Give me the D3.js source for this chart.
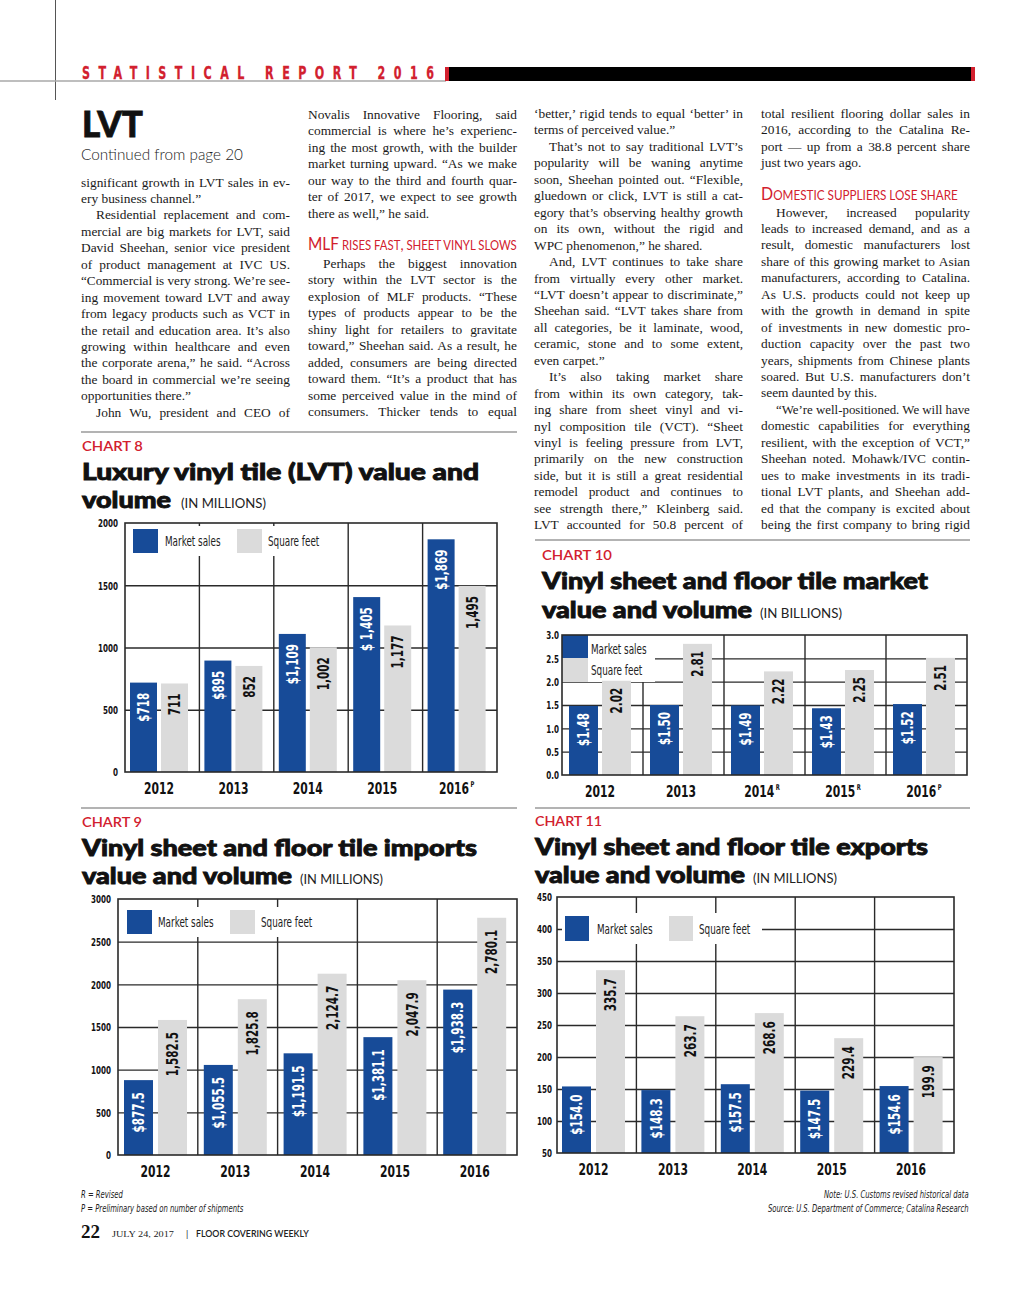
<!DOCTYPE html>
<html><head><meta charset="utf-8">
<script src="https://cdn.jsdelivr.net/npm/d3@7"></script>
<style>
html,body{margin:0;padding:0;background:#fff;}
svg{display:block;}
</style></head><body>
<svg id="page" width="1024" height="1293" xmlns="http://www.w3.org/2000/svg"></svg>
<script>
// ---------------- DATA ----------------
const years = ["2012", "2013", "2014", "2015", "2016"];

// Chart 8: LVT value and volume (millions)
const c8Sales = [718, 895, 1109, 1405, 1869];
const c8SalesLabels = ["$718", "$895", "$1,109", "$ 1,405", "$1,869"];
const c8Sqft = [711, 852, 1002, 1177, 1495];
const c8SqftLabels = ["711", "852", "1,002", "1,177", "1,495"];
const c8Sup = ["", "", "", "", "P"];
const c8Ticks = [0, 500, 1000, 1500, 2000];

// Chart 10: vinyl sheet & floor tile market (billions)
const c10Sales = [1.48, 1.50, 1.49, 1.43, 1.52];
const c10SalesLabels = ["$1.48", "$1.50", "$1.49", "$1.43", "$1.52"];
const c10Sqft = [2.02, 2.81, 2.22, 2.25, 2.51];
const c10SqftLabels = ["2.02", "2.81", "2.22", "2.25", "2.51"];
const c10Sup = ["", "", "R", "R", "P"];
const c10Ticks = [0, 0.5, 1.0, 1.5, 2.0, 2.5, 3.0];

// Chart 9: imports (millions)
const c9Sales = [877.5, 1055.5, 1191.5, 1381.1, 1938.3];
const c9SalesLabels = ["$877.5", "$1,055.5", "$1,191.5", "$1,381.1", "$1,938.3"];
const c9Sqft = [1582.5, 1825.8, 2124.7, 2047.9, 2780.1];
const c9SqftLabels = ["1,582.5", "1,825.8", "2,124.7", "2,047.9", "2,780.1"];
const c9Sup = ["", "", "", "", ""];
const c9Ticks = [0, 500, 1000, 1500, 2000, 2500, 3000];

// Chart 11: exports (millions)
const c11Sales = [154.0, 148.3, 157.5, 147.5, 154.6];
const c11SalesLabels = ["$154.0", "$148.3", "$157.5", "$147.5", "$154.6"];
const c11Sqft = [335.7, 263.7, 268.6, 229.4, 199.9];
const c11SqftLabels = ["335.7", "263.7", "268.6", "229.4", "199.9"];
const c11Sup = ["", "", "", "", ""];
const c11Ticks = [50, 100, 150, 200, 250, 300, 350, 400, 450];

const legendLabels = ["Market sales", "Square feet"];

// Article text (">" = indented first line, "|" = paragraph end)
const col1Lines = [
  "significant growth in LVT sales in ev-",
  "ery business channel.”|",
  ">Residential replacement and com-",
  "mercial are big markets for LVT, said",
  "David Sheehan, senior vice president",
  "of product management at IVC US.",
  "“Commercial is very strong. We’re see-",
  "ing movement toward LVT and away",
  "from legacy products such as VCT in",
  "the retail and education area. It’s also",
  "growing within healthcare and even",
  "the corporate arena,” he said. “Across",
  "the board in commercial we’re seeing",
  "opportunities there.”|",
  ">John Wu, president and CEO of"
];
const col2LinesA = [
  "Novalis Innovative Flooring, said",
  "commercial is where he’s experienc-",
  "ing the most growth, with the builder",
  "market turning upward. “As we make",
  "our way to the third and fourth quar-",
  "ter of 2017, we expect to see growth",
  "there as well,” he said.|"
];
const col2LinesB = [
  ">Perhaps the biggest innovation",
  "story within the LVT sector is the",
  "explosion of MLF products. “These",
  "types of products appear to be the",
  "shiny light for retailers to gravitate",
  "toward,” Sheehan said. As a result, he",
  "added, consumers are being directed",
  "toward them. “It’s a product that has",
  "some perceived value in the mind of",
  "consumers. Thicker tends to equal"
];
const col3Lines = [
  "‘better,’ rigid tends to equal ‘better’ in",
  "terms of perceived value.”|",
  ">That’s not to say traditional LVT’s",
  "popularity will be waning anytime",
  "soon, Sheehan pointed out. “Flexible,",
  "gluedown or click, LVT is still a cat-",
  "egory that’s observing healthy growth",
  "on its own, without the rigid and",
  "WPC phenomenon,” he shared.|",
  ">And, LVT continues to take share",
  "from virtually every other market.",
  "“LVT doesn’t appear to discriminate,”",
  "Sheehan said. “LVT takes share from",
  "all categories, be it laminate, wood,",
  "ceramic, stone and to some extent,",
  "even carpet.”|",
  ">It’s also taking market share",
  "from within its own category, tak-",
  "ing share from sheet vinyl and vi-",
  "nyl composition tile (VCT). “Sheet",
  "vinyl is feeling pressure from LVT,",
  "primarily on the new construction",
  "side, but it is still a great residential",
  "remodel product and continues to",
  "see strength there,” Kleinberg said.",
  "LVT accounted for 50.8 percent of"
];
const col4LinesA = [
  "total resilient flooring dollar sales in",
  "2016, according to the Catalina Re-",
  "port — up from a 38.8 percent share",
  "just two years ago.|"
];
const col4LinesB = [
  ">However, increased popularity",
  "leads to increased demand, and as a",
  "result, domestic manufacturers lost",
  "share of this growing market to Asian",
  "manufacturers, according to Catalina.",
  "As U.S. products could not keep up",
  "with the growth in demand in spite",
  "of investments in new domestic pro-",
  "duction capacity over the past two",
  "years, shipments from Chinese plants",
  "soared. But U.S. manufacturers don’t",
  "seem daunted by this.|",
  ">“We’re well-positioned. We will have",
  "domestic capabilities for everything",
  "resilient, with the exception of VCT,”",
  "Sheehan noted. Mohawk/IVC contin-",
  "ues to make investments in its tradi-",
  "tional LVT plants, and Sheehan add-",
  "ed that the company is excited about",
  "being the first company to bring rigid"
];

// ---------------- DRAWING ----------------
const svg = d3.select("#page");
const SERIF = "'Liberation Serif', 'Times New Roman', serif";
const NARROW = "'Liberation Sans Narrow', 'Arial Narrow', 'DejaVu Sans Condensed', 'Liberation Sans', sans-serif";
const SANS = "Lato, 'Open Sans', 'Noto Sans', sans-serif";
const RED = "#d2202e";
const BLUE = "#174b98";
const GRAY = "#dbdbdb";
const INK = "#1a1a1a";

// narrow font detection
const probe = svg.append("text").attr("font-family", NARROW).attr("font-weight", "bold").attr("font-size", 100).text("0000");
const probeW = probe.node().getComputedTextLength();
probe.remove();
const NF = probeW > 200 ? 182 / probeW : 1;

// compress text horizontally (via transform) if no narrow font; anchor handled manually
function narrowFit(t) {
  const anchor = t.attr("text-anchor") || "start";
  const L = t.node().getComputedTextLength();
  const w = L * NF;
  let x = +(t.attr("x") || 0);
  const y = +(t.attr("y") || 0);
  if (anchor === "middle") x -= w / 2;
  else if (anchor === "end") x -= w;
  const tr = t.attr("transform") || "";
  t.attr("text-anchor", "start").attr("x", 0).attr("y", 0)
    .attr("transform", `${tr} translate(${x},${y}) scale(${NF},1)`);
  return w;
}
// scale a text horizontally (via transform) to an exact width
function fitTo(t, w) {
  const L = t.node().getComputedTextLength();
  const x = +(t.attr("x") || 0), y = +(t.attr("y") || 0);
  t.attr("x", 0).attr("y", 0).attr("transform", `translate(${x},${y}) scale(${w / L},1)`);
  return t;
}

// --- header ---
svg.append("line").attr("x1", 55.5).attr("x2", 55.5).attr("y1", 0).attr("y2", 100).attr("stroke", "#555").attr("stroke-width", 1);
svg.append("line").attr("x1", 0).attr("x2", 446).attr("y1", 81).attr("y2", 81).attr("stroke", "#a9a9a9").attr("stroke-width", 1.5);
{
  const hdr = "STATISTICAL REPORT 2016";
  const t = svg.append("text").attr("font-family", NARROW).attr("font-weight", "bold")
    .attr("font-size", 17).attr("fill", RED).attr("stroke", RED).attr("stroke-width", 0.3).text(hdr);
  const L0 = t.node().getComputedTextLength();
  const sx = NF < 1 ? NF : 1;
  const ls = (352 / sx - L0) / (hdr.length - 1);
  t.attr("letter-spacing", ls).attr("transform", `translate(82,78.5) scale(${sx},1)`);
}
svg.append("rect").attr("x", 445).attr("y", 67).attr("width", 530).attr("height", 14).attr("fill", "#000");
svg.append("rect").attr("x", 445).attr("y", 67).attr("width", 4).attr("height", 14).attr("fill", RED);
svg.append("rect").attr("x", 971).attr("y", 67).attr("width", 4).attr("height", 14).attr("fill", RED);

// --- LVT heading ---
fitTo(svg.append("text").attr("x", 82).attr("y", 137).attr("font-family", SANS).attr("font-weight", 900)
  .attr("font-size", 37).attr("fill", "#111").attr("stroke", "#111").attr("stroke-width", 0.8).text("LVT"), 61);
fitTo(svg.append("text").attr("x", 81).attr("y", 160).attr("font-family", SANS).attr("font-weight", 300)
  .attr("font-size", 16.5).attr("fill", "#222").text("Continued from page 20"), 162);

// --- body columns ---
const LH = 16.45;
function drawColumn(lines, x0, x1, y0) {
  lines.forEach((raw, i) => {
    let s = raw, indent = 0, last = false;
    if (s.startsWith(">")) { s = s.slice(1); indent = 15; }
    if (s.endsWith("|")) { s = s.slice(0, -1); last = true; }
    const t = svg.append("text").attr("x", x0 + indent).attr("y", y0 + i * LH)
      .attr("font-family", SERIF).attr("font-size", 13.4).attr("fill", INK).text(s);
    const W = x1 - x0 - indent;
    const L = t.node().getComputedTextLength();
    const n = (s.match(/ /g) || []).length;
    if (L > W) {
      fitTo(t, W);
    } else if (!last && n > 0) {
      t.style("word-spacing", ((W - L) / n) + "px");
    }
  });
}
drawColumn(col1Lines, 81, 290, 186.5);
drawColumn(col2LinesA, 308, 517, 119);
drawColumn(col2LinesB, 308, 517, 268);
drawColumn(col3Lines, 534, 743, 118);
drawColumn(col4LinesA, 761, 970, 118);
drawColumn(col4LinesB, 761, 970, 216.5);

// subheads
{
  const t = svg.append("text").attr("x", 308).attr("y", 250).attr("font-family", SANS).attr("fill", RED);
  t.append("tspan").attr("font-size", 17).text("MLF");
  t.append("tspan").attr("font-size", 12.5).text(" RISES FAST");
  t.append("tspan").attr("font-size", 15).text(",");
  t.append("tspan").attr("font-size", 12.5).text(" SHEET VINYL SLOWS");
  fitTo(t, 209);
  const u = svg.append("text").attr("x", 761).attr("y", 200).attr("font-family", SANS).attr("fill", RED);
  u.append("tspan").attr("font-size", 17).text("D");
  u.append("tspan").attr("font-size", 12.5).text("OMESTIC SUPPLIERS LOSE SHARE");
  fitTo(u, 197);
}

// --- rules between chart blocks ---
[[81, 517, 432], [535, 970, 540], [81, 517, 808], [535, 970, 808]].forEach(r => {
  svg.append("line").attr("x1", r[0]).attr("x2", r[1]).attr("y1", r[2]).attr("y2", r[2])
    .attr("stroke", "#9a9a9a").attr("stroke-width", 1.5);
});

// --- chart titles (one text element per title block) ---
function chartTitle(o) {
  fitTo(svg.append("text").attr("x", o.x).attr("y", o.y - 1).attr("font-family", SANS).attr("font-weight", 600)
    .attr("font-size", 13.5).attr("fill", RED).text(o.label), o.lw);
  const y2 = o.y + 56 + (o.dy2 || 0);
  const t = svg.append("text").attr("font-family", SANS).attr("fill", "#111");
  [[o.l1, o.w1, o.x, o.y + 28], [o.l2, o.w2, o.x, y2]].forEach(([s, w, xx, yy]) => {
    t.append("tspan").attr("x", xx).attr("y", yy).attr("font-weight", 900).attr("font-size", 23.3)
      .attr("stroke", "#111").attr("stroke-width", 0.9)
      .attr("textLength", w).attr("lengthAdjust", "spacingAndGlyphs").text(s);
  });
  t.append("tspan").attr("x", o.ux).attr("y", y2).attr("font-weight", 400).attr("font-size", 13).attr("fill", "#222")
    .attr("textLength", o.uw).attr("lengthAdjust", "spacingAndGlyphs").text(o.unit);
}
chartTitle({x: 82, y: 452, label: "CHART 8", lw: 61, l1: "Luxury vinyl tile (LVT) value and", w1: 397, l2: "volume", w2: 89, ux: 181, unit: "(IN MILLIONS)", uw: 85});
chartTitle({x: 542, y: 561, label: "CHART 10", lw: 70, l1: "Vinyl sheet and floor tile market", w1: 386, l2: "value and volume", w2: 210, ux: 760, unit: "(IN BILLIONS)", uw: 82, dy2: 1});
chartTitle({x: 82, y: 828, label: "CHART 9", lw: 60, l1: "Vinyl sheet and floor tile imports", w1: 395, l2: "value and volume", w2: 210, ux: 300, unit: "(IN MILLIONS)", uw: 83});
chartTitle({x: 535, y: 827, label: "CHART 11", lw: 67, l1: "Vinyl sheet and floor tile exports", w1: 393, l2: "value and volume", w2: 210, ux: 753, unit: "(IN MILLIONS)", uw: 84});

// --- charts ---
function drawChart(c) {
  const g = svg.append("g");
  const x = d3.scaleBand().domain(years).range([c.left, c.right]);
  const y = d3.scaleLinear().domain(c.domain).range([c.bottom, c.top]);
  const LINE = "#2a2a2a";

  // horizontal gridlines via axis
  const grid = g.append("g").attr("transform", `translate(${c.left},0)`)
    .call(d3.axisLeft(y).tickValues(c.ticks.filter(t => t > c.domain[0] && t < c.domain[1]))
      .tickSize(-(c.right - c.left)).tickFormat(""));
  grid.select(".domain").remove();
  grid.selectAll(".tick line").attr("stroke", LINE).attr("stroke-width", 1.4);

  // vertical separators
  g.append("g").selectAll("line").data(years.slice(1)).join("line")
    .attr("x1", d => x(d)).attr("x2", d => x(d)).attr("y1", c.top).attr("y2", c.bottom)
    .attr("stroke", LINE).attr("stroke-width", 1.4);

  // legend
  const L = c.legend;
  g.append("rect").attr("x", L.bg[0]).attr("y", L.bg[1]).attr("width", L.bg[2]).attr("height", L.bg[3]).attr("fill", "#fff");
  [[BLUE, L.sq1], [GRAY, L.sq2]].forEach(([col, p]) => {
    g.append("rect").attr("x", p[0]).attr("y", p[1]).attr("width", p[2]).attr("height", p[3]).attr("fill", col);
  });
  L.txt.forEach((p, i) => {
    narrowFit(g.append("text").attr("x", p[0]).attr("y", p[1] + 4.7)
      .attr("font-family", NARROW).attr("font-size", 13.5).attr("fill", "#222").text(legendLabels[i]));
  });

  // bars
  const sx = d => x(d) + c.off;
  const gx = d => x(d) + c.off + c.bw + c.gap;
  g.append("g").selectAll("rect").data(years).join("rect")
    .attr("x", sx).attr("width", c.bw)
    .attr("y", (d, i) => y(c.sales[i])).attr("height", (d, i) => y(c.domain[0]) - y(c.sales[i]))
    .attr("fill", BLUE);
  g.append("g").selectAll("rect").data(years).join("rect")
    .attr("x", gx).attr("width", c.bw)
    .attr("y", (d, i) => y(c.sqft[i])).attr("height", (d, i) => y(c.domain[0]) - y(c.sqft[i]))
    .attr("fill", GRAY);

  // frame
  g.append("rect").attr("x", c.left).attr("y", c.top).attr("width", c.right - c.left).attr("height", c.bottom - c.top)
    .attr("fill", "none").attr("stroke", LINE).attr("stroke-width", 1.6);

  // tick labels
  const ax = g.append("g").attr("transform", `translate(${c.left},0)`)
    .call(d3.axisLeft(y).tickValues(c.ticks).tickSize(0).tickPadding(c.pad).tickFormat(c.fmt));
  ax.select(".domain").remove();
  ax.selectAll("text").attr("text-anchor", "end").attr("dy", null).attr("y", 3.8)
    .attr("font-family", NARROW).attr("font-weight", "bold").attr("font-size", 11)
    .attr("fill", "#111").each(function () { narrowFit(d3.select(this)); });

  // year labels (main + superscript as separate texts)
  years.forEach((yr, i) => {
    const cx = x(yr) + c.off + c.bw + c.gap / 2;
    const by = c.bottom + 22;
    const t = g.append("text").attr("font-family", NARROW).attr("font-weight", "bold")
      .attr("font-size", 16.5).attr("fill", "#111").text(yr);
    const w1 = t.node().getComputedTextLength() * NF;
    let w2 = 0, s = null;
    if (c.sup[i]) {
      s = g.append("text").attr("font-family", NARROW).attr("font-weight", "bold")
        .attr("font-size", 8).attr("fill", "#111").text(c.sup[i]);
      w2 = s.node().getComputedTextLength() * NF + 1.5;
    }
    const start = cx - (w1 + w2) / 2;
    t.attr("transform", `translate(${start},${by}) scale(${NF},1)`);
    if (s) s.attr("transform", `translate(${start + w1 + 1.5},${by - 7.5}) scale(${NF},1)`);
  });

  // value labels
  const valLabel = (xf, vals, labels, col) => {
    years.forEach((yr, i) => {
      narrowFit(g.append("text")
        .attr("transform", `translate(${xf(yr) + c.bw / 2},${y(vals[i]) + c.lo}) rotate(-90)`)
        .attr("text-anchor", "end").attr("y", 5.7)
        .attr("font-family", NARROW).attr("font-weight", "bold").attr("font-size", 16)
        .attr("fill", col).text(labels[i]));
    });
  };
  valLabel(sx, c.sales, c.salesLabels, "#fff");
  valLabel(gx, c.sqft, c.sqftLabels, "#111");
}

drawChart({
  left: 125, right: 497, top: 523, bottom: 772, domain: [0, 2000], ticks: c8Ticks, fmt: d3.format("d"), pad: 7,
  sales: c8Sales, sqft: c8Sqft, salesLabels: c8SalesLabels, sqftLabels: c8SqftLabels, sup: c8Sup,
  off: 5, bw: 27, gap: 4, lo: 10,
  legend: {bg: [130, 526, 198, 30], sq1: [133, 529, 25, 24], sq2: [237, 529, 25, 24], txt: [[165, 541], [268, 541]]}
});
drawChart({
  left: 562, right: 967, top: 635, bottom: 775, domain: [0, 3], ticks: c10Ticks, fmt: d3.format(".1f"), pad: 3,
  sales: c10Sales, sqft: c10Sqft, salesLabels: c10SalesLabels, sqftLabels: c10SqftLabels, sup: c10Sup,
  off: 7, bw: 29, gap: 4, lo: 7,
  legend: {bg: [562, 635, 93, 47], sq1: [562, 635, 26, 23], sq2: [562, 658, 26, 24], txt: [[591, 649], [591, 670]]}
});
drawChart({
  left: 118, right: 517, top: 899, bottom: 1155, domain: [0, 3000], ticks: c9Ticks, fmt: d3.format("d"), pad: 7,
  sales: c9Sales, sqft: c9Sqft, salesLabels: c9SalesLabels, sqftLabels: c9SqftLabels, sup: c9Sup,
  off: 6, bw: 29, gap: 5, lo: 12,
  legend: {bg: [124, 907, 200, 30], sq1: [127, 910, 25, 24], sq2: [230, 910, 25, 24], txt: [[158, 922], [261, 922]]}
});
drawChart({
  left: 557, right: 954, top: 897, bottom: 1153, domain: [50, 450], ticks: c11Ticks, fmt: d3.format("d"), pad: 5,
  sales: c11Sales, sqft: c11Sqft, salesLabels: c11SalesLabels, sqftLabels: c11SqftLabels, sup: c11Sup,
  off: 5, bw: 29, gap: 5, lo: 8,
  legend: {bg: [562, 913, 200, 31], sq1: [565, 916, 24, 25], sq2: [669, 916, 24, 25], txt: [[597, 929], [699, 929]]}
});

// --- footer ---
function foot(x, y, txt, anchor) {
  narrowFit(svg.append("text").attr("x", x).attr("y", y).attr("text-anchor", anchor)
    .attr("font-family", NARROW).attr("font-style", "italic").attr("font-size", 10.5).attr("fill", "#222").text(txt));
}
foot(81, 1198, "R = Revised", "start");
foot(81, 1212, "P = Preliminary based on number of shipments", "start");
foot(969, 1198, "Note: U.S. Customs revised historical data", "end");
foot(969, 1212, "Source: U.S. Department of Commerce; Catalina Research", "end");
svg.append("text").attr("x", 81).attr("y", 1238).attr("font-family", SERIF).attr("font-weight", "bold")
  .attr("font-size", 19).attr("fill", "#111").text("22");
fitTo(svg.append("text").attr("x", 112).attr("y", 1237).attr("font-family", SERIF)
  .attr("font-size", 8.5).attr("fill", "#222").text("JULY 24, 2017"), 62);
svg.append("text").attr("x", 186).attr("y", 1237).attr("font-family", SANS)
  .attr("font-size", 9).attr("fill", "#222").text("|");
fitTo(svg.append("text").attr("x", 196).attr("y", 1237).attr("font-family", SANS).attr("font-weight", 600)
  .attr("font-size", 8.5).attr("fill", "#222").text("FLOOR COVERING WEEKLY"), 113);
</script>
</body></html>
